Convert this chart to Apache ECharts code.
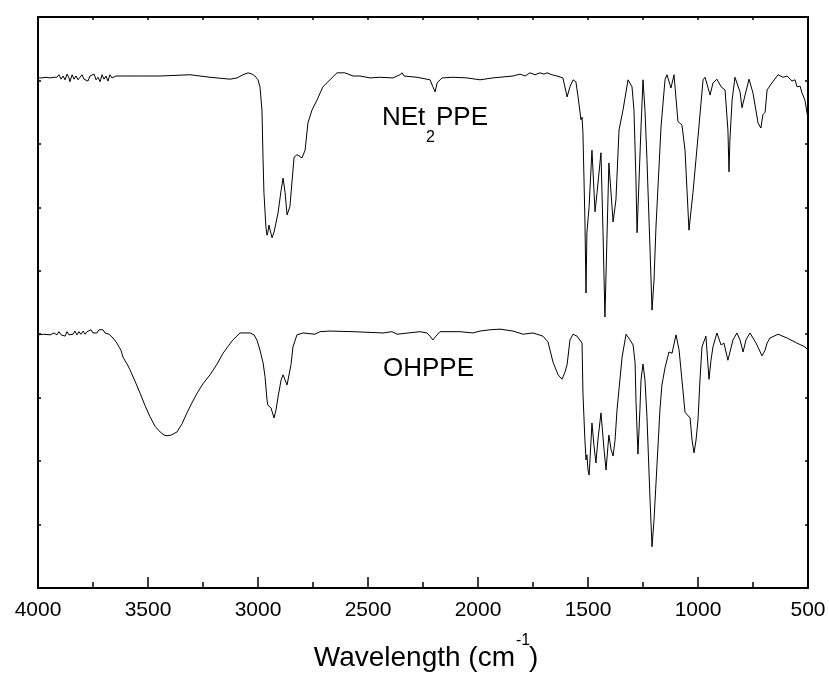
<!DOCTYPE html>
<html>
<head>
<meta charset="utf-8">
<script src="https://cdn.jsdelivr.net/npm/echarts@6/dist/echarts.min.js"></script>
<style>
  html, body { margin: 0; padding: 0; background: #fff; }
  #chart { width: 829px; height: 673px; }
</style>
</head>
<body>
<div id="chart"></div>
<script>
// wavenumber (cm-1) and transmittance (offset, a.u.)
const netWavenumber = [4000,3982,3964,3945,3927,3914,3905,3895,3886,3877,3868,3859,3855,3845,3836,3827,3818,3809,3800,3791,
  3782,3773,3764,3755,3745,3736,3727,3718,3709,3700,3691,3682,3673,3664,3645,3605,3536,3445,3309,3218,
  3127,3095,3068,3045,3027,3014,3000,2991,2982,2977,2973,2964,2959,2955,2950,2945,2936,2927,2909,2895,
  2886,2877,2868,2855,2836,2823,2800,2786,2773,2755,2732,2705,2673,2641,2605,2568,2536,2491,2445,2386,
  2355,2345,2336,2277,2218,2205,2195,2186,2164,2114,2050,1991,1932,1841,1809,1786,1764,1741,1718,1700,
  1686,1664,1641,1614,1595,1582,1568,1555,1545,1532,1527,1523,1514,1509,1505,1495,1482,1468,1459,1441,
  1432,1423,1414,1405,1386,1373,1359,1341,1318,1300,1291,1282,1277,1268,1259,1250,1241,1232,1218,1209,
  1200,1191,1168,1150,1141,1123,1109,1091,1073,1059,1041,1023,1000,977,968,945,932,914,895,877,
  868,864,859,855,845,832,809,800,786,768,750,727,714,705,695,686,664,636,614,595,
  573,559,550,536,527,514,505,500];
const netTransmit = [80.4,80.4,80.5,80.4,80.5,80.5,80.9,80.2,80.7,80.1,81.0,80.4,79.8,80.9,80.2,80.7,80.1,80.5,80.9,80.2,
  80.5,79.9,80.7,80.4,81.0,80.1,80.5,79.8,80.9,80.2,80.7,79.9,80.9,80.4,80.7,80.7,80.7,80.7,80.9,80.5,
  80.2,80.4,80.9,81.2,81.0,80.7,80.1,79.0,75.3,67.5,62.3,56.9,55.6,56.1,57.2,56.4,55.2,56.1,59.1,62.7,
  64.6,62.4,58.8,60.1,67.9,68.3,67.8,69.0,73.3,75.3,76.9,79.0,80.1,81.2,81.2,80.7,80.7,80.4,80.5,80.4,
  80.9,81.2,80.7,80.5,80.1,79.0,78.2,79.6,80.4,80.5,80.4,80.1,80.4,80.7,81.0,80.7,81.2,80.9,81.2,81.0,
  81.2,80.9,80.7,80.4,77.4,79.0,80.1,79.8,77.4,73.8,74.2,71.7,58.0,46.5,56.0,60.1,69.0,59.3,62.3,68.6,
  56.4,42.7,54.9,67.0,57.7,61.2,72.2,75.3,80.1,79.0,75.3,64.3,56.0,64.3,72.7,80.1,75.3,67.5,53.3,43.8,
  48.5,56.9,72.7,80.1,80.9,78.8,80.9,73.5,73.0,69.0,56.4,62.3,71.1,80.1,80.5,77.7,79.6,80.2,79.0,78.5,
  78.8,72.2,65.6,70.6,76.9,80.5,78.2,75.7,77.7,80.2,78.0,73.3,72.5,74.6,75.0,78.5,79.6,80.9,80.5,80.7,
  79.9,80.1,79.0,79.1,78.0,76.9,75.0,74.1];

const ohWavenumber = [4000,3973,3945,3927,3914,3905,3895,3886,3877,3868,3859,3850,3841,3832,3823,3814,3805,3795,3786,3777,
  3768,3759,3750,3741,3732,3723,3714,3705,3695,3686,3677,3668,3659,3650,3641,3632,3623,3614,3595,3582,
  3559,3536,3514,3491,3468,3445,3427,3414,3395,3368,3345,3323,3300,3277,3250,3218,3186,3159,3136,3114,
  3082,3059,3036,3018,3005,2991,2977,2968,2959,2955,2941,2927,2918,2909,2895,2886,2877,2868,2859,2850,
  2841,2823,2795,2741,2718,2673,2568,2432,2391,2368,2264,2232,2218,2205,2191,2173,2082,2023,1991,1945,
  1900,1841,1795,1750,1705,1682,1659,1636,1618,1605,1595,1582,1568,1550,1527,1523,1514,1509,1505,1500,
  1495,1491,1482,1473,1464,1455,1441,1427,1418,1409,1405,1395,1386,1377,1368,1355,1345,1327,1309,1295,
  1286,1282,1273,1264,1259,1250,1241,1232,1218,1209,1200,1186,1173,1164,1150,1132,1118,1100,1086,1073,
  1059,1036,1027,1018,1009,1000,991,982,964,950,941,932,914,895,882,864,841,823,809,795,
  782,764,736,709,695,686,673,636,595,550,514,500];
const ohTransmit = [39.9,40.0,39.9,40.2,39.9,40.4,39.9,40.2,39.7,40.4,39.9,40.2,40.0,40.5,39.9,40.4,40.0,40.5,40.0,40.4,
  40.2,40.7,40.2,40.5,40.2,40.7,40.4,40.7,40.2,40.5,40.0,39.9,39.4,39.1,38.6,38.0,37.5,36.4,35.3,34.4,
  32.6,30.7,28.8,27.0,25.5,24.6,24.1,24.0,24.1,24.6,25.9,27.6,29.2,30.7,32.2,33.6,35.3,37.0,38.1,39.1,
  40.2,40.2,40.2,39.9,39.1,37.5,35.5,33.3,29.6,28.8,28.4,26.8,28.1,30.1,32.8,33.6,32.8,32.0,31.8,35.2,
  38.0,39.9,40.2,40.0,40.4,40.5,40.4,40.2,40.4,40.0,40.4,40.2,39.7,39.1,39.7,40.4,40.4,40.2,40.5,40.7,
  40.8,40.5,40.0,40.2,39.7,38.8,35.6,33.6,32.9,34.0,35.2,39.1,40.0,39.7,38.6,30.7,23.3,20.2,21.0,18.6,
  17.8,20.2,26.0,22.5,19.7,23.3,27.6,21.8,18.6,22.5,24.1,21.8,20.8,23.3,28.1,32.8,36.4,40.0,39.1,38.3,
  35.5,29.6,21.1,28.1,32.8,35.3,32.8,27.0,13.9,6.5,10.7,19.7,28.1,32.0,34.7,37.2,37.0,39.9,37.5,32.8,
  27.7,26.8,23.3,21.3,23.3,26.5,32.8,38.0,39.7,32.9,35.9,38.0,40.2,38.3,38.6,35.9,39.1,40.2,39.1,37.2,
  39.1,40.2,38.6,36.6,37.5,38.6,39.4,40.0,39.4,38.6,38.0,37.5];

const xMin = 500, xMax = 4000, xStep = 500;
const yMin = 0, yMax = 90, yStep = 10;

const FONT = '"Liberation Sans", Arial, Helvetica, sans-serif';

function zip(xs, ys) {
  return xs.map((x, i) => [x, ys[i]]);
}

const chart = echarts.init(document.getElementById('chart'));

const axisLine = { show: true, onZero: false, lineStyle: { color: '#000', width: 2 } };

chart.setOption({
  animation: false,
  backgroundColor: '#fff',
  grid: { left: 38, right: 21, top: 17, bottom: 85, outerBoundsMode: 'none' },
  xAxis: [
    {
      type: 'value', position: 'bottom', inverse: true,
      min: xMin, max: xMax, interval: xStep,
      axisLine: axisLine,
      axisTick: { show: true, inside: true, length: 11, lineStyle: { color: '#000', width: 1.5 } },
      minorTick: { show: true, splitNumber: 2, length: 6, lineStyle: { color: '#000', width: 1.5 } },
      axisLabel: { color: '#000', fontSize: 21, fontFamily: FONT, margin: 12, formatter: v => String(v) },
      splitLine: { show: false }
    },
    {
      type: 'value', position: 'top', inverse: true,
      min: xMin, max: xMax, interval: xStep / 2,
      axisLine: axisLine,
      axisTick: { show: true, inside: true, length: 3, lineStyle: { color: '#000', width: 1.5 } },
      axisLabel: { show: false },
      splitLine: { show: false }
    }
  ],
  yAxis: [
    {
      type: 'value', position: 'left', min: yMin, max: yMax, interval: yStep,
      axisLine: axisLine,
      axisTick: { show: true, inside: true, length: 3, lineStyle: { color: '#000', width: 1.5 } },
      axisLabel: { show: false },
      splitLine: { show: false }
    },
    {
      type: 'value', position: 'right', min: yMin, max: yMax, interval: yStep,
      axisLine: axisLine,
      axisTick: { show: true, inside: true, length: 3, lineStyle: { color: '#000', width: 1.5 } },
      axisLabel: { show: false },
      splitLine: { show: false }
    }
  ],
  series: [
    {
      name: 'NEt2PPE', type: 'line', data: zip(netWavenumber, netTransmit),
      showSymbol: false, symbol: 'none', lineStyle: { color: '#000', width: 1 }
    },
    {
      name: 'OHPPE', type: 'line', data: zip(ohWavenumber, ohTransmit),
      showSymbol: false, symbol: 'none', lineStyle: { color: '#000', width: 1 }
    }
  ],
  graphic: [
    // series labels
    { type: 'text', x: 382, y: 118, style: { text: 'NEt', font: '26px ' + FONT, fill: '#000', verticalAlign: 'middle' } },
    { type: 'text', x: 426, y: 138, style: { text: '2', font: '16px ' + FONT, fill: '#000', verticalAlign: 'middle' } },
    { type: 'text', x: 436, y: 118, style: { text: 'PPE', font: '26px ' + FONT, fill: '#000', verticalAlign: 'middle' } },
    { type: 'text', x: 383, y: 369, style: { text: 'OHPPE', font: '26px ' + FONT, fill: '#000', verticalAlign: 'middle' } },
    // axis title
    { type: 'text', x: 515, y: 658, style: { text: 'Wavelength (cm', font: '28px ' + FONT, fill: '#000', align: 'right', verticalAlign: 'middle' } },
    { type: 'text', x: 516, y: 641, style: { text: '-1', font: '16px ' + FONT, fill: '#000', verticalAlign: 'middle' } },
    { type: 'text', x: 529, y: 658, style: { text: ')', font: '28px ' + FONT, fill: '#000', verticalAlign: 'middle' } }
  ]
});
</script>
</body>
</html>
